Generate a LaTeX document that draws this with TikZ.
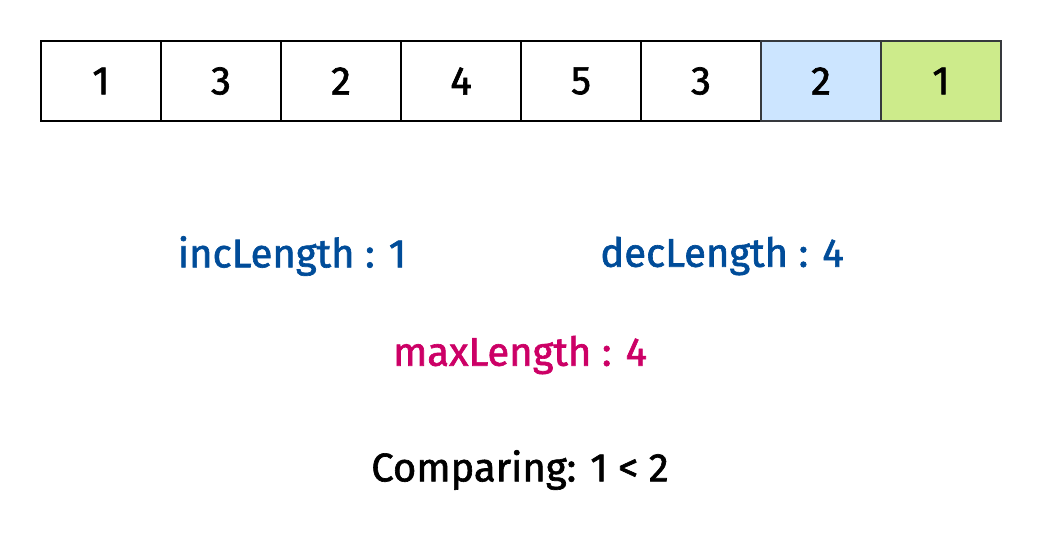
\documentclass[tikz,border=0pt]{standalone}
\usepackage{fontspec}
\setmainfont{Fira Sans}
\newfontfamily\cfont{Fira Sans}[FakeBold=1.6]
\definecolor{cellblue}{HTML}{CCE5FF}
\definecolor{cellgreen}{HTML}{CDEB8B}
\definecolor{cellborder}{HTML}{36393D}
\definecolor{txtblue}{HTML}{004C99}
\definecolor{txtmag}{HTML}{CC0066}
\tikzset{
  cell/.style={draw=black, line width=1.3pt, minimum width=120pt, minimum height=80pt, inner sep=0pt, font=\fontsize{40}{46}\cfont, anchor=center},
  lbl/.style={font=\fontsize{40}{46}\cfont, inner sep=0pt, anchor=center}
}
\begin{document}
\begin{tikzpicture}[x=1pt,y=-1pt]
\useasboundingbox (0,0) rectangle (1042,542);
\node[cell] (c1) at (101,81) {1};
\node[cell] (c2) at (221,81) {3};
\node[cell] (c3) at (341,81) {2};
\node[cell] (c4) at (461,81) {4};
\node[cell] (c5) at (581,81) {5};
\node[cell] (c6) at (701,81) {3};
\node[cell, fill=cellblue, draw=cellborder] (c7) at (821,81) {2};
\node[cell, fill=cellgreen, draw=cellborder] (c8) at (941,81) {1};
\node[lbl, text=txtblue] (inc) at (292,256) {incLength : 1};
\node[lbl, text=txtblue] (dec) at (722,256) {decLength : 4};
\node[lbl, text=txtmag] (max) at (520,355) {maxLength : 4};
\node[lbl, text=black] (cmp) at (520,470) {Comparing: 1 < 2};
\end{tikzpicture}
\end{document}
